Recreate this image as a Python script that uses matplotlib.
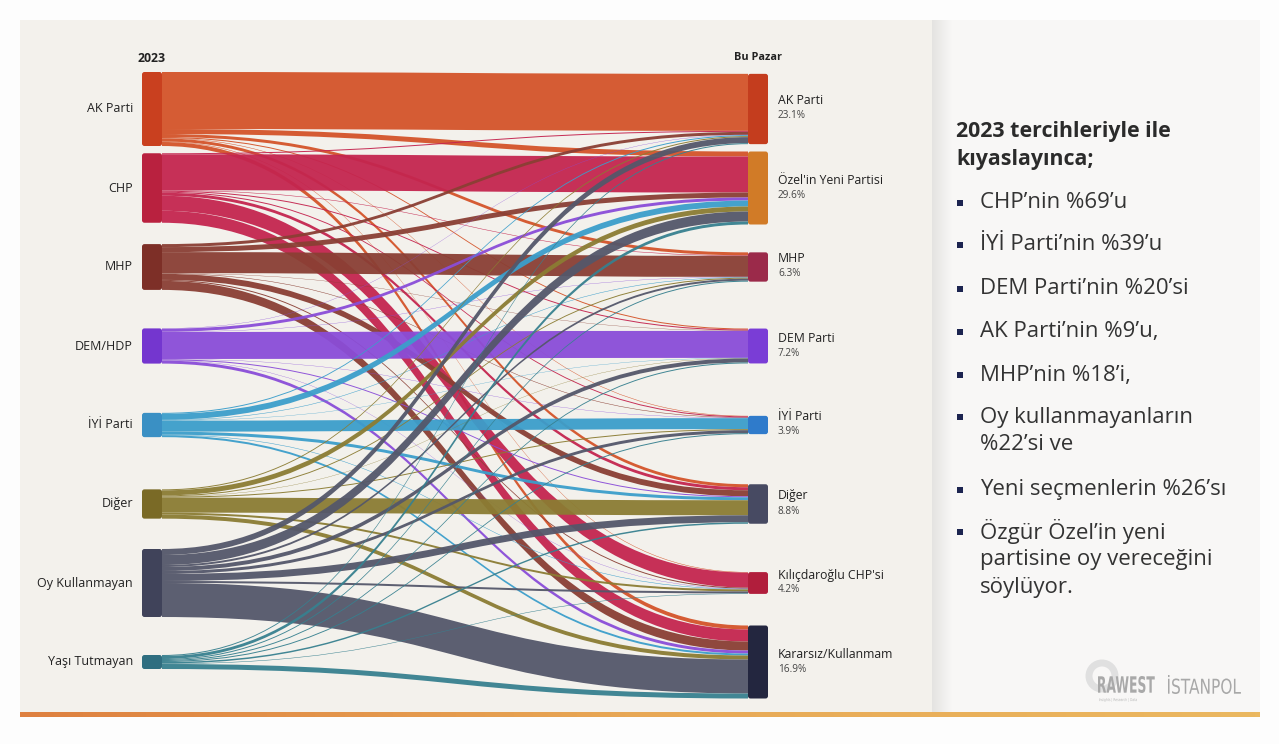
import numpy as np
import matplotlib
matplotlib.use("Agg")
import matplotlib.pyplot as plt
from matplotlib.path import Path
from matplotlib.patches import PathPatch, FancyBboxPatch, Rectangle, Circle
from matplotlib.textpath import TextPath
from matplotlib.font_manager import FontProperties
from matplotlib.transforms import Affine2D

plt.rcParams['font.family'] = ['Open Sans', 'DejaVu Sans']

# ---------------- data ----------------
sources = ["AK Parti", "CHP", "MHP", "DEM/HDP", "İYİ Parti", "Diğer",
           "Oy Kullanmayan", "Yaşı Tutmayan"]
targets = ["AK Parti", "Özel'in Yeni Partisi", "MHP", "DEM Parti", "İYİ Parti",
           "Diğer", "Kılıçdaroğlu CHP'si", "Kararsız/Kullanmam"]
target_pct = ["23.1%", "29.6%", "6.3%", "7.2%", "3.9%", "8.8%", "4.2%", "16.9%"]

# flows from each 2023 group to [AK, Özel, MHP, DEM, İYİ, Diğer, K.CHP, Kararsız]
flow_ak    = [57, 5, 3, 1, 0.5, 3, 0.5, 4]
flow_chp   = [1, 36, 0.5, 1, 1, 3, 15, 12]
flow_mhp   = [3, 5, 21, 0.3, 0.5, 6, 1, 9]
flow_dem   = [0.3, 3, 0.3, 27, 0.3, 1, 0.3, 3]
flow_iyi   = [1, 6, 0.5, 0.3, 11, 3, 0.5, 2]
flow_diger = [1, 5, 1, 0.3, 1, 15, 2, 4]
flow_oyk   = [6, 10, 2, 4, 3, 7, 2, 34]
flow_yasi  = [1, 3, 1, 1, 1, 1.5, 0.5, 5]

title_lines = ["2023 tercihleriyle ile", "kıyaslayınca;"]
bullets = [["CHP’nin %69’u"], ["İYİ Parti’nin %39’u"], ["DEM Parti’nin %20’si"],
           ["AK Parti’nin %9’u,"], ["MHP’nin %18’i,"],
           ["Oy kullanmayanların", "%22’si ve"], ["Yeni seçmenlerin %26’sı"],
           ["Özgür Özel’in yeni", "partisine oy vereceğini", "söylüyor."]]

# ---------------- styles ----------------
src_node_col = ["#C9401F", "#B9213F", "#7D2F27", "#7436CF", "#3A90C4", "#7A6A26", "#40435A", "#2F6E80"]
src_link_col = ["#D4542A", "#C4254F", "#8A3F34", "#8A4DD8", "#3B9ECB", "#8B7C33", "#54576A", "#37808F"]
tgt_node_col = ["#C43D1E", "#D17B27", "#9B2A4A", "#7A3DD6", "#2F7BCB", "#474A62", "#B11E3C", "#23263F"]

flows = np.array([flow_ak, flow_chp, flow_mhp, flow_dem, flow_iyi, flow_diger, flow_oyk, flow_yasi])

W, H = 1279, 744
fig = plt.figure(figsize=(W / 100, H / 100), dpi=100)
fig.patch.set_facecolor("#FDFDFD")
ax = fig.add_axes([0, 0, 1, 1])
ax.set_xlim(0, W)
ax.set_ylim(H, 0)
ax.axis("off")

# backgrounds
ax.add_patch(Rectangle((20, 20), 912, 692, facecolor="#F3F1EC", edgecolor="none", zorder=0))
ax.add_patch(Rectangle((932, 20), 328, 692, facecolor="#F8F7F6", edgecolor="none", zorder=0))
grad = np.linspace(0, 1, 64)[None, :]
ax.imshow(grad, extent=(932, 952, 712, 20), cmap=matplotlib.colors.LinearSegmentedColormap.from_list(
    "sh", ["#E4E3E1", "#F8F7F6"]), aspect="auto", zorder=0.5)
bar = np.linspace(0, 1, 256)[None, :]
ax.imshow(bar, extent=(20, 1260, 717, 712), cmap=matplotlib.colors.LinearSegmentedColormap.from_list(
    "bar", ["#DE8040", "#E8A855", "#EBB860"]), aspect="auto", zorder=0.5)

# ---------------- sankey ----------------
scale = 1.0
x_left, x_right, node_w = 142, 748, 20
centers = np.linspace(109, 662, len(sources))
src_tot = flows.sum(axis=1) * scale
tgt_tot = flows.sum(axis=0) * scale
src_top = centers - src_tot / 2
tgt_top = centers - tgt_tot / 2

tgt_cum = np.zeros_like(flows, dtype=float)
for j in range(flows.shape[1]):
    y = tgt_top[j]
    for i in range(flows.shape[0]):
        tgt_cum[i, j] = y
        y += flows[i, j] * scale

x0 = x_left + node_w
x1 = x_right
xm = (x0 + x1) / 2
for i in range(flows.shape[0]):
    y = src_top[i]
    for j in range(flows.shape[1]):
        w = flows[i, j] * scale
        ya, yb = y, tgt_cum[i, j]
        verts = [(x0, ya), (xm, ya), (xm, yb), (x1, yb),
                 (x1, yb + w), (xm, yb + w), (xm, ya + w), (x0, ya + w), (x0, ya)]
        codes = [Path.MOVETO, Path.CURVE4, Path.CURVE4, Path.CURVE4,
                 Path.LINETO, Path.CURVE4, Path.CURVE4, Path.CURVE4, Path.CLOSEPOLY]
        ax.add_patch(PathPatch(Path(verts, codes), facecolor=src_link_col[i],
                               edgecolor="none", alpha=0.95, zorder=2))
        y += w

for i, name in enumerate(sources):
    ax.add_patch(FancyBboxPatch((x_left, src_top[i]), node_w, src_tot[i],
                                boxstyle="round,pad=0,rounding_size=2.5",
                                facecolor=src_node_col[i], edgecolor="none", zorder=3))
    ax.text(x_left - 9, centers[i], name, ha="right", va="center", fontsize=9.0,
            color="#222222", zorder=4)

for j, name in enumerate(targets):
    ax.add_patch(FancyBboxPatch((x_right, tgt_top[j]), node_w, tgt_tot[j],
                                boxstyle="round,pad=0,rounding_size=2.5",
                                facecolor=tgt_node_col[j], edgecolor="none", zorder=3))
    ax.text(x_right + 30, centers[j] - 8, name, ha="left", va="center", fontsize=8.8,
            color="#222222", zorder=4)
    ax.text(x_right + 30, centers[j] + 7, target_pct[j], ha="left", va="center", fontsize=7.2,
            color="#444444", zorder=4)

ax.text(x_left + node_w / 2, 58, "2023", ha="center", va="center", fontsize=8.8,
        fontweight="bold", color="#222222")
ax.text(x_right + node_w / 2, 58, "Bu Pazar", ha="center", va="center", fontsize=7.8,
        fontweight="bold", color="#222222")

# ---------------- right panel ----------------
ax.text(956, 132, title_lines[0], ha="left", va="center", fontsize=15.4,
        fontweight="bold", color="#2B2B2B")
ax.text(956, 160, title_lines[1], ha="left", va="center", fontsize=15.4,
        fontweight="bold", color="#2B2B2B")

bullet_y = [203, 245, 289, 332, 375, 417, 490, 532]
for yb, lines in zip(bullet_y, bullets):
    ax.add_patch(Rectangle((957, yb - 3), 6, 6, facecolor="#1C2450", edgecolor="none"))
    for k, line in enumerate(lines):
        ax.text(980, yb + k * 28, line, ha="left", va="center", fontsize=16,
                color="#333333")


# logos (condensed text drawn as paths)
def narrow_text(s, x, y, height, sx, color, weight="normal"):
    tp = TextPath((0, 0), s, size=10, prop=FontProperties(family="DejaVu Sans", weight=weight))
    bb = tp.get_extents()
    k = height / bb.height
    tr = Affine2D().translate(-bb.x0, -bb.y0).scale(k * sx, -k).translate(x, y)
    ax.add_patch(PathPatch(tr.transform_path(tp), facecolor=color, edgecolor="none", zorder=3))


ax.add_patch(Circle((1102, 676), 13, facecolor="none", edgecolor="#E0E0E0", linewidth=5, zorder=1))
narrow_text("RAWEST", 1098, 693, 17, 0.55, "#A9A9A9", weight="bold")
narrow_text("Insights | Research | Data", 1099, 702, 4, 0.75, "#B8B8B8")
narrow_text("İSTANPOL", 1168, 694, 19, 0.75, "#A8A8A8")

fig.savefig("out.png", dpi=100, facecolor=fig.get_facecolor())
